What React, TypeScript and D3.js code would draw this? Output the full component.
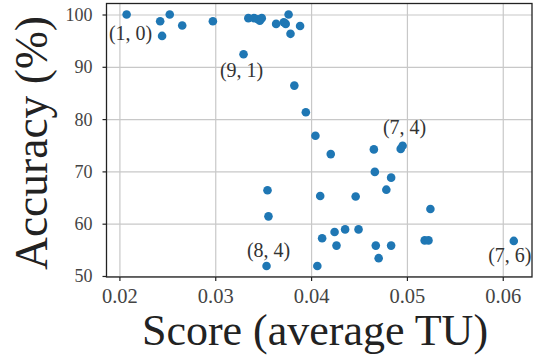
import React from "react";
import * as d3 from "d3";

// scores (average TU) and accuracy (%)
const scores = [
  0.0207, 0.0242, 0.0252, 0.0244, 0.0265, 0.0297, 0.0329, 0.0334, 0.034, 0.0344,
  0.0346, 0.0348, 0.0363, 0.0371, 0.0373, 0.0376, 0.0378, 0.0388, 0.0382, 0.0394,
  0.0404, 0.042, 0.0465, 0.0493, 0.0495, 0.0466, 0.0483, 0.0478, 0.0446, 0.0409,
  0.0354, 0.0355, 0.0353, 0.0406, 0.0411, 0.0424, 0.0426, 0.0435, 0.0449, 0.0524,
  0.0518, 0.0522, 0.0467, 0.0483, 0.047, 0.0611,
];
const accuracy = [
  100.1, 98.8, 100.1, 96.0, 98.0, 98.8, 92.5, 99.4, 99.4, 99.2,
  98.9, 99.4, 98.3, 98.6, 98.3, 100.1, 96.4, 97.9, 86.5, 81.4,
  76.9, 73.4, 74.3, 74.4, 75.0, 70.0, 68.9, 66.6, 65.3, 65.4,
  66.5, 61.5, 52.0, 52.0, 57.3, 58.5, 55.9, 59.0, 59.0, 62.9,
  56.9, 56.9, 55.9, 55.9, 53.5, 56.8,
];

const xTicks = [0.02, 0.03, 0.04, 0.05, 0.06];
const yTicks = [50, 60, 70, 80, 90, 100];

// annotated configurations: index of the point, text, pixel offset of the label
const notes = [
  { i: 0, label: "(1, 0)", dx: 4, dy: 19 },
  { i: 6, label: "(9, 1)", dx: -2, dy: 16 },
  { i: 32, label: "(8, 4)", dx: 2, dy: -16 },
  { i: 24, label: "(7, 4)", dx: 2, dy: -19 },
  { i: 45, label: "(7, 6)", dx: -4, dy: 14 },
];

const W = 536;
const H = 358;
const left = 106.5;
const right = 532;
const top = 3.5;
const bottom = 277;
const font = "'Liberation Serif', 'DejaVu Serif', serif";

export default function App() {
  const x = d3.scaleLinear().domain([0.0186, 0.063]).range([left, right]);
  const y = d3.scaleLinear().domain([49.9, 102.2]).range([bottom, top]);
  const fmt = d3.format(".2f");

  return (
    <svg
      width={W}
      height={H}
      style={{ position: "absolute", left: 0, top: 0, background: "#fff" }}
    >
      {/* grid */}
      {xTicks.map((t) => (
        <line key={"gx" + t} x1={x(t)} x2={x(t)} y1={top} y2={bottom} stroke="#c8c8c8" strokeWidth={1.2} />
      ))}
      {yTicks.map((t) => (
        <line key={"gy" + t} x1={left} x2={right} y1={y(t)} y2={y(t)} stroke="#c8c8c8" strokeWidth={1.2} />
      ))}

      {/* points */}
      {scores.map((s, i) => (
        <circle key={i} cx={x(s)} cy={y(accuracy[i])} r={4.3} fill="#1f77b4" />
      ))}

      {/* annotations */}
      {notes.map((n) => (
        <text
          key={n.label}
          x={x(scores[n.i]) + n.dx}
          y={y(accuracy[n.i]) + n.dy}
          textAnchor="middle"
          dominantBaseline="central"
          fontFamily={font}
          fontSize={20}
          fill="#333"
        >
          {n.label}
        </text>
      ))}

      {/* frame */}
      <rect x={left} y={top} width={right - left} height={bottom - top} fill="none" stroke="#222" strokeWidth={1.3} />

      {/* x axis */}
      {xTicks.map((t) => (
        <g key={"xt" + t}>
          <line x1={x(t)} x2={x(t)} y1={bottom} y2={bottom + 4} stroke="#222" strokeWidth={1.2} />
          <text x={x(t)} y={bottom + 26} textAnchor="middle" fontFamily={font} fontSize={20.5} fill="#444">
            {fmt(t)}
          </text>
        </g>
      ))}

      {/* y axis */}
      {yTicks.map((t) => (
        <g key={"yt" + t}>
          <line x1={left - 4} x2={left} y1={y(t)} y2={y(t)} stroke="#222" strokeWidth={1.2} />
          <text x={left - 14} y={y(t)} textAnchor="end" dominantBaseline="central" fontFamily={font} fontSize={18} fill="#444">
            {t}
          </text>
        </g>
      ))}

      <text x={315} y={345} textAnchor="middle" fontFamily={font} fontSize={44} fill="#222">
        Score (average TU)
      </text>
      <text
        transform={`translate(47, 143) rotate(-90)`}
        textAnchor="middle"
        fontFamily={font}
        fontSize={45.5}
        fill="#222"
      >
        Accuracy (%)
      </text>
    </svg>
  );
}
